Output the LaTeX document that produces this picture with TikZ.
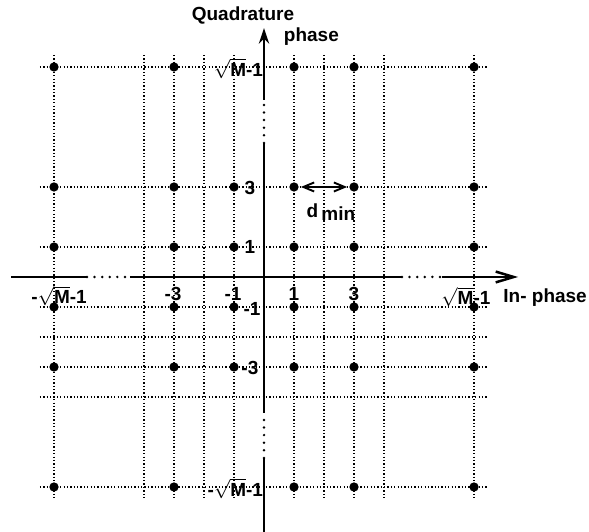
\documentclass[tikz,border=0pt]{standalone}
\usepackage{fontspec}
\setmainfont{Liberation Sans}
\usepackage{amsmath}
\usetikzlibrary{arrows.meta}

\begin{document}
\begin{tikzpicture}[
    x=0.5cm, y=0.5cm,
    grid/.style={densely dotted, line width=0.6pt},
    axis/.style={line width=1.2pt},
    gap/.style={line width=1.3pt, dash pattern=on 0pt off 3.6pt, line cap=round},
    dot/.style={circle, fill=black, inner sep=0pt, minimum size=1.55mm},
    lab/.style={font=\bfseries\fontsize{9}{10}\selectfont, inner sep=0pt}
  ]
  \useasboundingbox (-8.8,-8.5) rectangle (10.833,9.233);

  % Grid
  \foreach \x in {-7,-4,-3,-2,-1,1,2,3,4,7}
    \draw[grid] (\x,7.4) -- (\x,-7.43);
  \foreach \y in {7,3,1,-1,-2,-3,-4,-7}
    \draw[grid] (-7.47,\y) -- (7.43,\y);

  % Constellation points
  \foreach \y [count=\j] in {7,3,1,-1,-3,-7}
    \foreach \x [count=\i] in {-7,-3,-1,1,3,7} {
      \pgfmathtruncatemacro{\nodot}{(\i==3)*((\j==1)+(\j==6))}
      \ifnum\nodot=0 \node[dot] (p\i\j) at (\x,\y) {}; \fi
    }

  % In-phase axis
  \coordinate (xl) at (-8.43,0);
  \coordinate (xa) at (-5.9,0);
  \coordinate (xb) at (-4.47,0);
  \coordinate (xc) at (4.6,0);
  \coordinate (xd) at (5.93,0);
  \coordinate (xr) at (8.47,0);
  \draw[axis] (xl) -- (xa);
  \draw[gap] (xa) -- (xb);
  \draw[axis] (xb) -- (xc);
  \draw[gap] (xc) -- (xd);
  \draw[axis, -{Straight Barb[length=3mm, width=1.8mm]}] (xd) -- (xr);

  % Quadrature axis
  \coordinate (yb) at (0,-8.6);
  \coordinate (ya) at (0,-6.03);
  \coordinate (y1) at (0,-4.53);
  \coordinate (y2) at (0,4.47);
  \coordinate (y3) at (0,5.9);
  \coordinate (yt) at (0,8.3);
  \draw[axis] (yb) -- (ya);
  \draw[gap] (ya) -- (y1);
  \draw[axis] (y1) -- (y2);
  \draw[gap] (y2) -- (y3);
  \draw[axis, -{Stealth[length=2.6mm, width=1.7mm]}] (y3) -- (yt);

  % Minimum distance
  \draw[line width=0.9pt, {Straight Barb[length=1.8mm, width=1.5mm]}-{Straight Barb[length=1.8mm, width=1.5mm]},
        shorten <=0.3mm, shorten >=0.3mm] (p42) -- (p52);
  \node[lab] (dmin) at (2.23,2.17) {d\,\raisebox{-0.3ex}{min}};

  % Axis names
  \node[lab] (quad) at (-0.7,8.73) {Quadrature};
  \node[lab] (qphase) at (1.58,8.0) {phase};
  \node[lab] (iphase) at (9.37,-0.7) {In- phase};

  % Tick labels
  \node[lab, anchor=east] (ytop) at (-0.02,6.95) {$\sqrt{\text{M}}$-1};
  \node[lab] (y3l) at (-0.47,2.97) {3};
  \node[lab] (y1l) at (-0.47,1) {1};
  \node[lab] (ym1l) at (-0.4,-1.07) {-1};
  \node[lab] (ym3l) at (-0.47,-3.03) {-3};
  \node[lab, anchor=east] (ybot) at (-0.02,-7.05) {-$\sqrt{\text{M}}$-1};
  \node[lab] (xleft) at (-6.83,-0.62) {-$\sqrt{\text{M}}$-1};
  \node[lab] (xm3l) at (-3.03,-0.57) {-3};
  \node[lab] (xm1l) at (-1.03,-0.57) {-1};
  \node[lab] (x1l) at (1,-0.57) {1};
  \node[lab] (x3l) at (3,-0.57) {3};
  \node[lab] (xright) at (6.73,-0.67) {$\sqrt{\text{M}}$-1};
\end{tikzpicture}
\end{document}
